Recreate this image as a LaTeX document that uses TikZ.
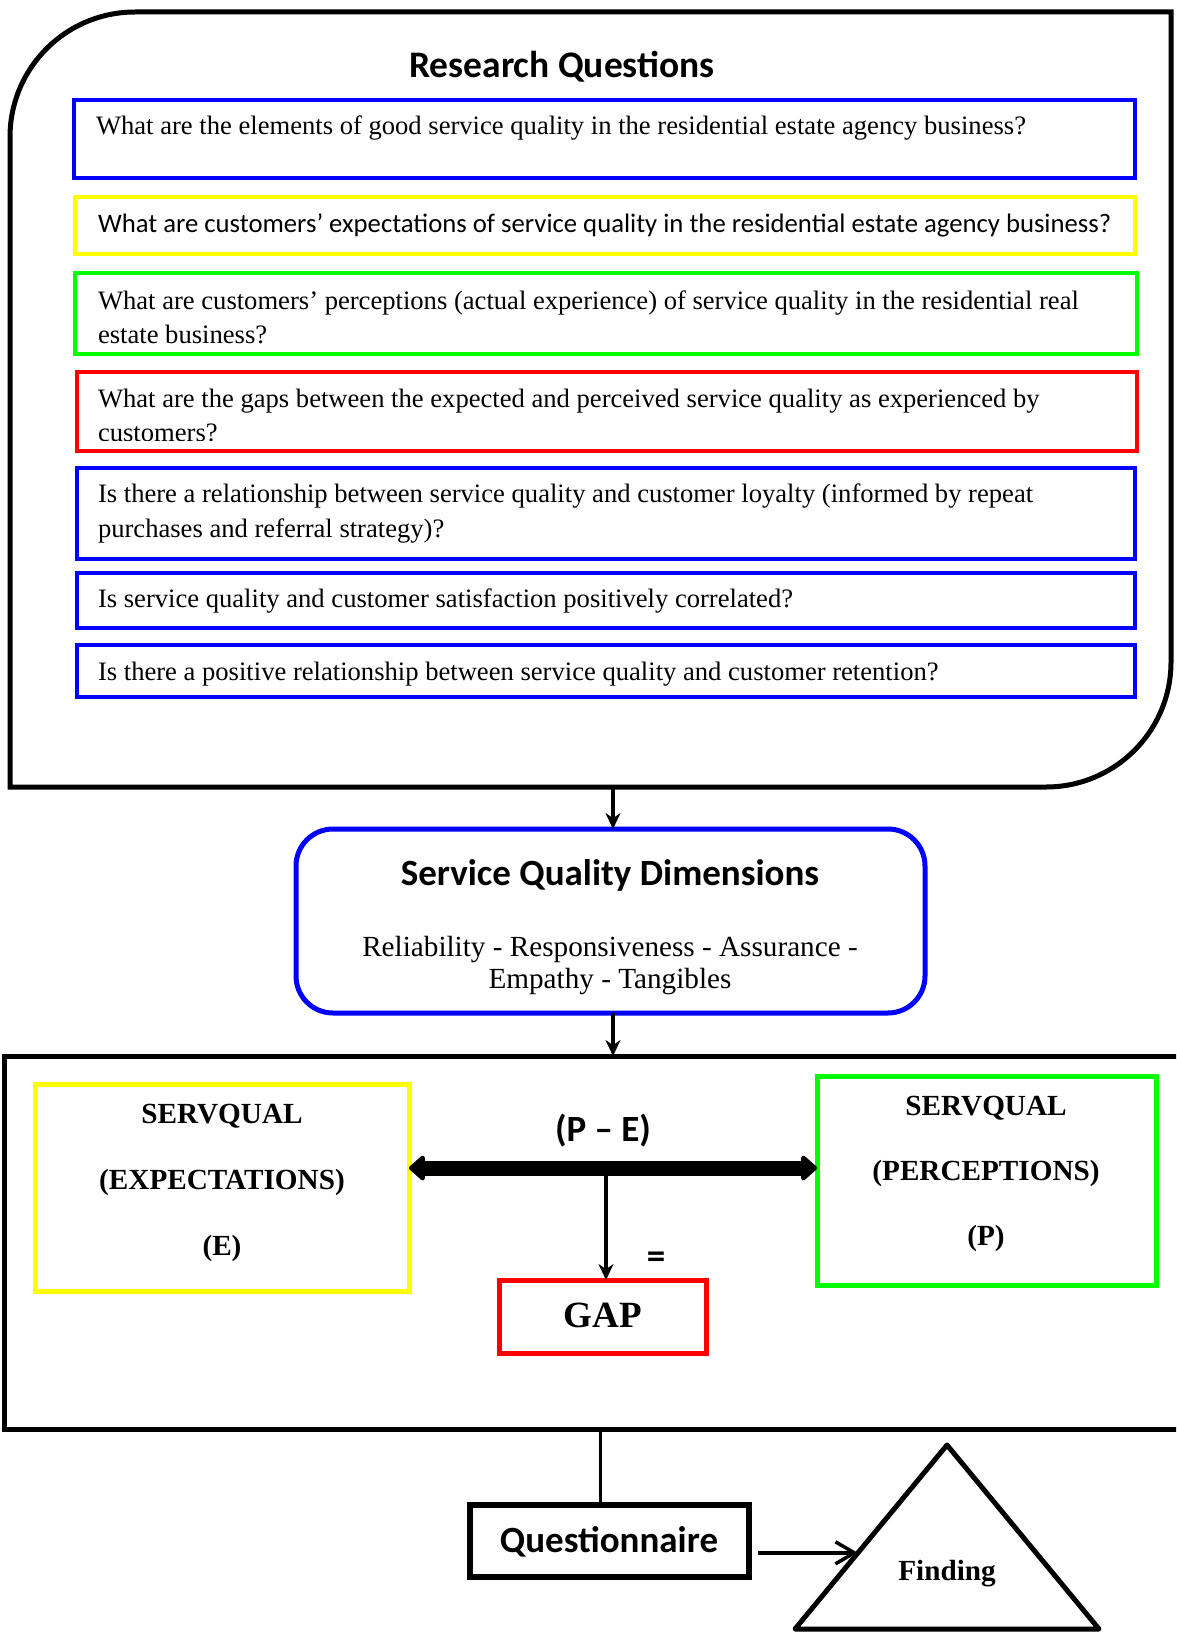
\documentclass[tikz,border=0pt]{standalone}
\usepackage{fontspec}
\setmainfont{Liberation Serif}
\newfontfamily\calibri{Carlito}
\usetikzlibrary{arrows.meta,calc}
\definecolor{qblue}{RGB}{0,0,255}
\definecolor{qyellow}{RGB}{255,255,0}
\definecolor{qgreen}{RGB}{0,255,0}
\definecolor{qred}{RGB}{255,0,0}
% stacked lines with a fixed pitch; baseline on the first line
\newcommand\txtrows[2]{\begin{tabular}[t]{@{}#1@{}}#2\end{tabular}}

\begin{document}
\begin{tikzpicture}[x=1pt,y=-1pt,
  frame/.style={draw=black, line width=5pt},
  box/.style={draw=#1, inner sep=0pt, outer sep=0pt, anchor=north west},
  qbox/.style={box=#1, line width=4pt},
  bigbox/.style={box=#1, line width=5pt},
  txt/.style={inner sep=0pt, outer sep=0pt},
  qtext/.style={txt, anchor=base west, font=\fontsize{26.6}{34}\selectfont},
  sanshead/.style={txt, anchor=base, font=\calibri\bfseries\fontsize{37}{40}\selectfont},
  serifbold/.style={txt, anchor=base, font=\bfseries\fontsize{29.2}{#1}\selectfont},
  thinarrow/.style={line width=3.5pt, -{Stealth[length=16pt,width=15pt]}},
]
\useasboundingbox (0,0) rectangle (1176,1640);
\fill[white] (0,0) rectangle (1176,1640);
\clip (0,0) rectangle (1176,1640);

% ---------- research questions panel ----------
\draw[frame] (10,787) -- (10,137) arc[start angle=180, end angle=270, radius=125]
  -- (1171,12) -- (1171,662) arc[start angle=0, end angle=90, radius=125] -- cycle;
\coordinate (rq-south) at (613,787);

\node[sanshead, font=\calibri\bfseries\fontsize{37.5}{40}\selectfont] (rqtitle) at (562,78) {Research Questions};

\node[qbox=qblue,   minimum width=1061pt, minimum height=78pt] (q1) at (74,100) {};
\node[qbox=qyellow, minimum width=1060pt, minimum height=57pt] (q2) at (75,197) {};
\node[qbox=qgreen,  minimum width=1062pt, minimum height=81pt] (q3) at (75,273) {};
\node[qbox=qred,    minimum width=1060pt, minimum height=79pt] (q4) at (77,372) {};
\node[qbox=qblue,   minimum width=1058pt, minimum height=91pt] (q5) at (77,468) {};
\node[qbox=qblue,   minimum width=1058pt, minimum height=55pt] (q6) at (77,573) {};
\node[qbox=qblue,   minimum width=1058pt, minimum height=52pt] (q7) at (77,645) {};

\node[qtext] (q1t) at (96,135) {What are the elements of good service quality in the residential estate agency business?};
\node[qtext, font=\calibri\fontsize{26.7}{34}\selectfont] (q2t) at (98,232) {What are customers’ expectations of service quality in the residential estate agency business?};
\node[qtext] (q3t) at (98,309) {\txtrows{l}{What are customers’ perceptions (actual experience) of service quality in the residential real\\estate business?}};
\begin{scope}
  \clip (77,372) rectangle (1137,440);
  \node[qtext] (q4t) at (98,407) {\txtrows{l}{What are the gaps between the expected and perceived service quality as experienced by\\customers?}};
\end{scope}
\node[qtext, font=\fontsize{26.6}{35}\selectfont] (q5t) at (98,502) {\txtrows{l}{Is there a relationship between service quality and customer loyalty (informed by repeat\\purchases and referral strategy)?}};
\node[qtext] (q6t) at (98,607) {Is service quality and customer satisfaction positively correlated?};
\node[qtext] (q7t) at (98,680) {Is there a positive relationship between service quality and customer retention?};

% ---------- service quality dimensions ----------
\node[bigbox=qblue, rounded corners=37pt, minimum width=629pt, minimum height=184pt] (sqd) at (296,829) {};
\node[sanshead] (sqdtitle) at (610,885) {Service Quality Dimensions};
\node[txt, anchor=base, font=\fontsize{29.2}{32}\selectfont] (sqdbody) at (610,956)
  {\txtrows{c}{Reliability - Responsiveness - Assurance -\\Empathy - Tangibles}};

\draw[thinarrow] (rq-south) -- (rq-south |- sqd.north);

% ---------- SERVQUAL gap panel ----------
\node[bigbox=black, minimum width=1200pt, minimum height=373pt] (servq) at (4,1056) {};
\draw[thinarrow] (sqd.south -| rq-south) -- (servq.north -| rq-south);

\node[bigbox=qyellow, minimum width=374pt, minimum height=207pt] (expect) at (35,1084) {};
\node[serifbold=66] (expectt) at (222,1123) {\txtrows{c}{SERVQUAL\\(EXPECTATIONS)\\(E)}};

\node[bigbox=qgreen, minimum width=339pt, minimum height=209pt] (percep) at (817,1076) {};
\node[serifbold=65] (percept) at (986,1115) {\txtrows{c}{SERVQUAL\\(PERCEPTIONS)\\(P)}};

\node[sanshead] (pminuse) at (603,1141) {(P – E)};
\coordinate (pe-mid) at (606,1168);
\draw[line width=15pt, {Triangle[round,length=17pt,width=29pt]}-{Triangle[round,length=17pt,width=29pt]}]
  (expect.east |- pe-mid) -- (percep.west |- pe-mid);

\node[bigbox=qred, minimum width=207pt, minimum height=73pt] (gap) at (499,1280) {};
\node[txt, anchor=base, font=\bfseries\fontsize{37}{40}\selectfont] (gapt) at (603,1327) {GAP};
\draw[thinarrow] (pe-mid) -- (pe-mid |- gap.north);
\node[sanshead] (equals) at (656,1268) {=};

% ---------- questionnaire and finding ----------
\node[box=black, line width=6pt, minimum width=279pt, minimum height=72pt] (quest) at (470,1505) {};
\node[sanshead] (questt) at (609,1552) {Questionnaire};
\coordinate (ql) at ([xshift=-9pt]quest.north);
\draw[line width=3.5pt] (ql) -- (ql |- servq.south);

\coordinate (tri-top) at (947,1445);
\coordinate (tri-left) at (795,1629);
\coordinate (tri-right) at (1099,1629);
\draw[line width=5pt, line join=round] (tri-top) -- (tri-right) -- (tri-left) -- cycle;
\node[serifbold=32] (finding) at (947,1580) {Finding};

\coordinate (fin-tip) at ($(tri-top)!0.586!(tri-left)$);
\draw[line width=3.5pt, -{Straight Barb[length=19pt,width=22pt]}, shorten <=9pt]
  (quest.east |- fin-tip) -- (fin-tip);
\end{tikzpicture}
\end{document}
